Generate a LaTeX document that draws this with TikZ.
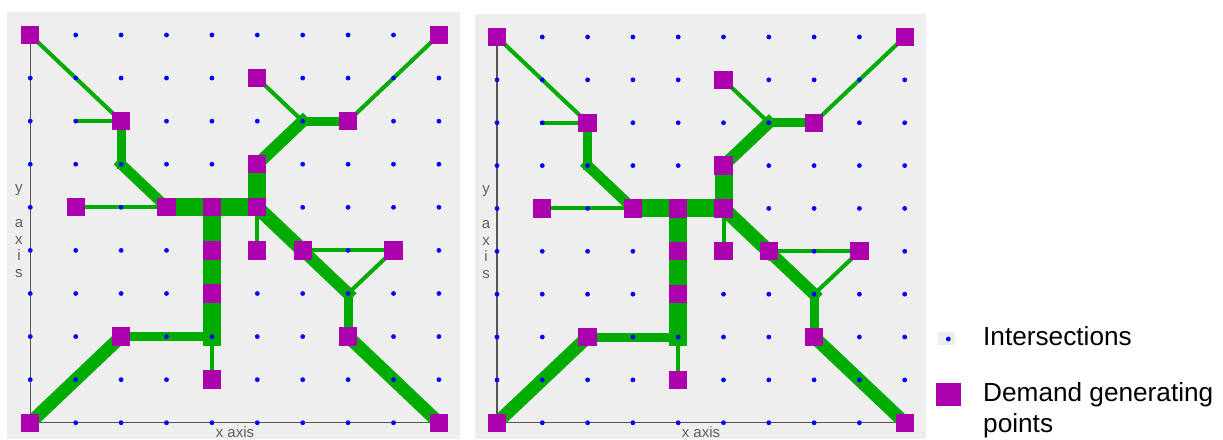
\documentclass[tikz,border=0pt]{standalone}
\usepackage{fontspec}
\setmainfont{Liberation Sans}
\definecolor{netgreen}{HTML}{00AC00}
\definecolor{dgp}{HTML}{AC00AC}
\definecolor{panelbg}{HTML}{EEEEEE}
\definecolor{axisgray}{HTML}{555555}
\definecolor{labelgray}{HTML}{606060}
\definecolor{dotblue}{HTML}{0000FF}

\newcommand\netgrid[5]{% #1 prefix, #2 x0, #3 y0, #4 dx, #5 dy
  \foreach \i in {0,...,9}{\foreach \j in {0,...,9}{
    \coordinate (#1-\i-\j) at ({#2+#4*\i},{#3+#5*\j});}}
}
\newcommand\netpanel[1]{%
  % axes
  \draw[axisline] (#1-0-0) -- (#1-0-9) -- (#1-9-9);
  % connectors
  \draw[w4] (#1-0-0) -- (#1-2-2);
  \draw[w4] (#1-1-2) -- (#1-2-2);
  \draw[w4] (#1-1-4) -- (#1-3-4);
  \draw[w4] (#1-5-4) -- (#1-5-5);
  \draw[w4] (#1-6-5) -- (#1-8-5);
  \draw[w4] (#1-8-5) -- (#1-7-6);
  \draw[w4] (#1-5-1) -- (#1-6-2);
  \draw[w4] (#1-7-2) -- (#1-9-0);
  \draw[w4] (#1-4-7) -- (#1-4-8);
  \draw[w9] (#1-2-2) -- (#1-2-3);
  \draw[w9] (#1-6-2) -- (#1-7-2);
  \draw[w9] (#1-2-7) -- (#1-4-7);
  \draw[w9] (#1-7-6) -- (#1-7-7);
  \draw[w10] (#1-2-3) -- (#1-3-4);
  \draw[w12] (#1-5-3) -- (#1-6-2);
  \draw[w12] (#1-6-5) -- (#1-7-6);
  \draw[w13] (#1-0-9) -- (#1-2-7);
  \draw[w13] (#1-7-7) -- (#1-9-9);
  \draw[w14] (#1-5-4) -- (#1-6-5);
  \draw[w18] (#1-3-4) -- (#1-5-4);
  \draw[w18] (#1-4-4) -- (#1-4-7);
  \draw[w18] (#1-5-3) -- (#1-5-4);
  % intersections
  \foreach \i in {0,...,9}{\foreach \j in {0,...,9}{
    \node[isect] (#1-d-\i-\j) at (#1-\i-\j) {};}}
  % demand generating points
  \foreach \i/\j in {0/0,9/0,5/1,2/2,7/2,5/3,1/4,3/4,4/4,5/4,4/5,5/5,6/5,8/5,4/6,2/7,7/7,4/8,0/9,9/9}{
    \node[dgpbox] (#1-s-\i-\j) at (#1-\i-\j) {};}
}

\begin{document}
\begin{tikzpicture}[x=1pt,y=-1pt,
  net/.style={draw=netgreen, line cap=rect},
  w4/.style={net, line width=4pt},
  w9/.style={net, line width=9pt},
  w10/.style={net, line width=10.5pt},
  w12/.style={net, line width=12pt},
  w13/.style={net, line width=13pt},
  w14/.style={net, line width=14pt},
  w18/.style={net, line width=18pt},
  axisline/.style={draw=axisgray, line width=1.1pt},
  isect/.style={circle, fill=dotblue, inner sep=0pt, minimum size=4.8pt},
  dgpbox/.style={rectangle, fill=dgp, inner sep=0pt, minimum size=18.3pt},
  axlbl/.style={font=\fontsize{15}{17}\selectfont, text=labelgray, inner sep=0pt, anchor=base},
  legtext/.style={font=\fontsize{26.2}{30}\selectfont, text=black, inner sep=0pt, anchor=base west}
]
\useasboundingbox (0,0) rectangle (1223,439);
\fill[white] (0,0) rectangle (1223,439);
% panel backgrounds
\fill[panelbg] (7,12) rectangle (460,439);
\fill[panelbg] (475,14) rectangle (926,439);

\netgrid{L}{30.3}{35}{45.4}{43.08}
\netgrid{R}{497}{37}{45.3}{42.86}
\netpanel{L}
\netpanel{R}

% axis labels
\foreach \c/\yy [count=\k] in {y/192,a/227,x/244,i/260.5,s/277}{
  \node[axlbl] (Ly\k) at (19,\yy) {\c};
  \node[axlbl] (Ry\k) at (486,\yy+1) {\c};
}
\node[axlbl] (Lx) at (235,437.8) {x axis};
\node[axlbl] (Rx) at (701,437.8) {x axis};

% legend
\node[rectangle, fill=panelbg, inner sep=0pt, minimum width=17pt, minimum height=13pt] (legbg) at (946.5,338.5) {};
\node[isect] (legdot) at (948.3,339) {};
\node[dgpbox, minimum width=25pt, minimum height=23pt] (legsq) at (948.5,394.5) {};
\node[legtext] (legt1) at (983,345.7) {Intersections};
\node[legtext] (legt2) at (983,401) {Demand generating};
\node[legtext] (legt3) at (983,432) {points};
\end{tikzpicture}
\end{document}
